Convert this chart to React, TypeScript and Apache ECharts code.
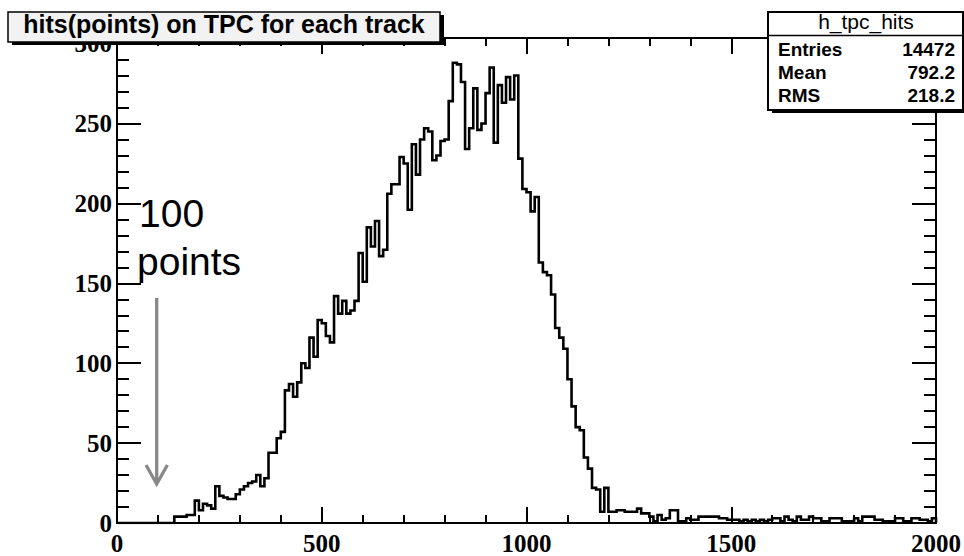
import React, { useEffect, useRef } from "react";
import * as echarts from "echarts";

// ---- data ----
const TITLE = "hits(points) on TPC for each track";
const HIST_NAME = "h_tpc_hits";
const STAT_LABELS = ["Entries", "Mean", "RMS"];
const STAT_VALUES = ["14472", "792.2", "218.2"];
const ANNOTATION = ["100", "points"];

const X_MIN = 0;
const X_MAX = 2000;
const N_BINS = 200;
const Y_MAX = 303.5;
const X_INTERVAL = 500;
const Y_INTERVAL = 50;

// bins 0-59 (0..600)
const COUNTS_RISE = [
  0, 0, 0, 0, 0, 0, 0, 0, 0, 0,
  0, 0, 0, 0, 4, 4, 4, 5, 5, 14,
  8, 12, 11, 9, 23, 17, 16, 15, 15, 18,
  21, 23, 25, 26, 30, 23, 28, 44, 44, 53,
  57, 83, 87, 79, 88, 100, 97, 116, 104, 127,
  125, 117, 113, 142, 131, 139, 131, 133, 139, 169,
];
// bins 60-119 (600..1200)
const COUNTS_PEAK = [
  151, 185, 173, 189, 167, 171, 206, 212, 212, 229,
  225, 196, 237, 218, 240, 247, 245, 227, 230, 239,
  240, 264, 288, 287, 276, 234, 247, 272, 246, 250,
  269, 285, 238, 274, 263, 279, 265, 280, 228, 209,
  207, 195, 204, 163, 157, 155, 143, 122, 116, 109,
  90, 73, 60, 58, 41, 34, 22, 21, 7, 22,
];
// bins 120-199 (1200..2000)
const COUNTS_TAIL = [
  7, 7, 8, 8, 7, 7, 7, 9, 6, 6,
  4, 1, 5, 2, 3, 8, 8, 1, 1, 3,
  2, 2, 4, 4, 4, 4, 4, 3, 3, 2,
  2, 2, 1, 2, 1, 2, 1, 2, 1, 2,
  3, 3, 1, 4, 2, 1, 4, 2, 2, 4,
  3, 3, 1, 1, 3, 3, 3, 1, 1, 1,
  3, 1, 4, 4, 4, 2, 2, 1, 1, 1,
  3, 3, 1, 1, 3, 3, 2, 2, 1, 3,
];

const COUNTS = [...COUNTS_RISE, ...COUNTS_PEAK, ...COUNTS_TAIL];

function stepPoints(): number[][] {
  const w = (X_MAX - X_MIN) / N_BINS;
  const pts: number[][] = [[X_MIN, 0]];
  COUNTS.forEach((c, i) => {
    const lo = X_MIN + i * w;
    pts.push([lo, c]);
    pts.push([lo + w, c]);
  });
  pts.push([X_MAX, 0]);
  return pts;
}

const LABEL_FONT = {
  color: "#000",
  fontFamily: "Liberation Serif",
  fontWeight: "bold" as const,
  fontSize: 25,
};

function xAxisDef(position: "bottom" | "top", labels: boolean) {
  return {
    type: "value",
    position,
    min: X_MIN,
    max: X_MAX,
    interval: X_INTERVAL,
    axisLine: { show: true, onZero: false, lineStyle: { color: "#000", width: 2 } },
    axisTick: { show: true, inside: true, length: 16, lineStyle: { color: "#000", width: 2 } },
    minorTick: { show: true, splitNumber: 5, length: 8, lineStyle: { color: "#000", width: 2 } },
    axisLabel: { show: labels, margin: 8, formatter: (v: number) => String(v), ...LABEL_FONT },
    splitLine: { show: false },
    minorSplitLine: { show: false },
  };
}

function yAxisDef(position: "left" | "right", interval: number, tickLen: number, labels: boolean, line: boolean) {
  return {
    type: "value",
    position,
    min: 0,
    max: Y_MAX,
    interval,
    axisLine: { show: line, onZero: false, lineStyle: { color: "#000", width: 2 } },
    axisTick: { show: true, inside: true, length: tickLen, lineStyle: { color: "#000", width: 2 } },
    axisLabel: {
      show: labels,
      margin: 5,
      showMaxLabel: false,
      formatter: (v: number) => (v % Y_INTERVAL === 0 ? String(v) : ""),
      ...LABEL_FONT,
    },
    splitLine: { show: false },
  };
}

export default function App() {
  const ref = useRef<HTMLDivElement>(null);
  useEffect(() => {
    if (!ref.current) return;
    const chart = echarts.init(ref.current, null, { renderer: "svg" });
    const statRowsY = [49, 72.5, 95];
    const option: any = {
      animation: false,
      backgroundColor: "#ffffff",
      grid: { left: 117, right: 27, top: 38, bottom: 30, containLabel: false },
      xAxis: [xAxisDef("bottom", true), xAxisDef("top", false)],
      yAxis: [
        yAxisDef("left", Y_INTERVAL, 24, true, true),
        yAxisDef("left", 10, 12, false, false),
        yAxisDef("right", Y_INTERVAL, 24, false, true),
        yAxisDef("right", 10, 12, false, false),
      ],
      series: [
        {
          type: "line",
          xAxisIndex: 0,
          yAxisIndex: 0,
          data: stepPoints(),
          symbol: "none",
          showSymbol: false,
          silent: true,
          clip: true,
          lineStyle: { color: "#000", width: 2.6, join: "miter" },
          z: 3,
        },
      ],
      graphic: [
        // title box
        { type: "rect", z: 100, shape: { x: 12, y: 15, width: 432, height: 30 }, style: { fill: "#000" } },
        { type: "rect", z: 101, shape: { x: 8, y: 12, width: 432, height: 30 }, style: { fill: "#f2f2f2", stroke: "#000", lineWidth: 1.5 } },
        {
          type: "text", z: 102, x: 224, y: 24,
          style: { text: TITLE, fontFamily: "Liberation Sans", fontWeight: "bold", fontSize: 25, fill: "#000", textAlign: "center", textVerticalAlign: "middle" },
        },
        // stats box
        { type: "rect", z: 100, shape: { x: 772, y: 15, width: 195, height: 98 }, style: { fill: "#000" } },
        { type: "rect", z: 101, shape: { x: 768, y: 12, width: 195, height: 98 }, style: { fill: "#fff", stroke: "#000", lineWidth: 2 } },
        { type: "line", z: 102, shape: { x1: 768, y1: 35.5, x2: 963, y2: 35.5 }, style: { stroke: "#000", lineWidth: 1.5 } },
        {
          type: "text", z: 103, x: 866, y: 21,
          style: { text: HIST_NAME, fontFamily: "Liberation Sans", fontSize: 21, fill: "#000", textAlign: "center", textVerticalAlign: "middle" },
        },
        ...STAT_LABELS.map((t, i) => ({
          type: "text", z: 102, x: 778, y: statRowsY[i],
          style: { text: t, fontFamily: "Liberation Sans", fontWeight: "bold", fontSize: 19, fill: "#000", textAlign: "left", textVerticalAlign: "middle" },
        })),
        ...STAT_VALUES.map((t, i) => ({
          type: "text", z: 102, x: 955, y: statRowsY[i],
          style: { text: t, fontFamily: "Liberation Sans", fontWeight: "bold", fontSize: 19, fill: "#000", textAlign: "right", textVerticalAlign: "middle" },
        })),
        // annotation
        {
          type: "text", z: 102, x: 139, y: 213,
          style: { text: ANNOTATION[0], fontFamily: "Liberation Sans", fontSize: 39, fill: "#000", textAlign: "left", textVerticalAlign: "middle" },
        },
        {
          type: "text", z: 102, x: 137, y: 261,
          style: { text: ANNOTATION[1], fontFamily: "Liberation Sans", fontSize: 39, fill: "#000", textAlign: "left", textVerticalAlign: "middle" },
        },
        { type: "line", z: 102, shape: { x1: 156.7, y1: 298, x2: 156.7, y2: 483 }, style: { stroke: "#888", lineWidth: 3.3 } },
        { type: "polyline", z: 102, shape: { points: [[146, 465], [156.7, 484], [167.4, 465]] }, style: { stroke: "#888", lineWidth: 3.3, fill: "none" } },
      ],
    };
    chart.setOption(option);
    return () => chart.dispose();
  }, []);
  return (
    <div
      ref={ref}
      style={{ position: "absolute", left: 0, top: 0, width: 964, height: 556, background: "#fff" }}
    />
  );
}
